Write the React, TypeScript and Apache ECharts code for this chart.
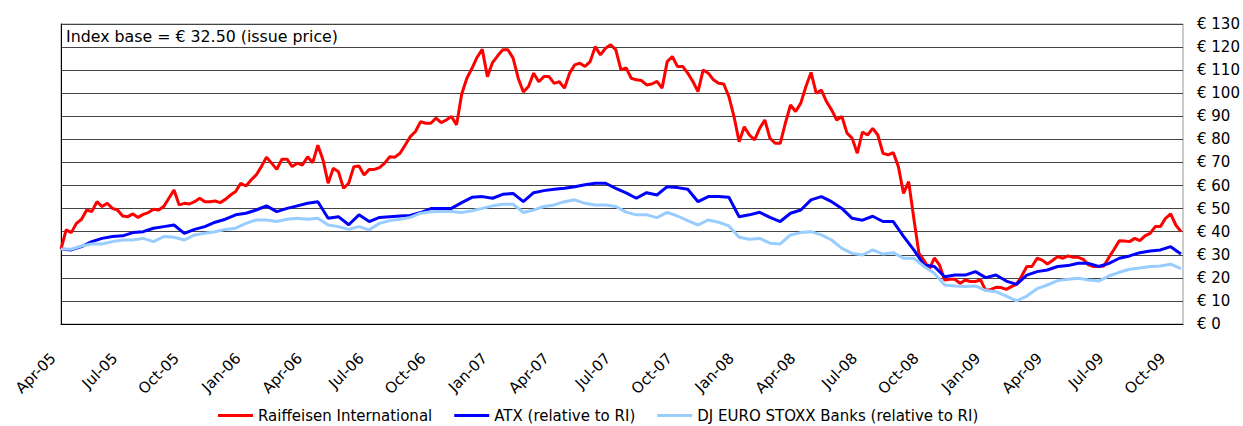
import React, { useEffect, useRef } from "react";
import * as echarts from "echarts";

// x-axis: months since Apr-05 (one tick label per quarter)
const xLabels = [
  "Apr-05", "Jul-05", "Oct-05", "Jan-06", "Apr-06", "Jul-06", "Oct-06",
  "Jan-07", "Apr-07", "Jul-07", "Oct-07", "Jan-08", "Apr-08", "Jul-08",
  "Oct-08", "Jan-09", "Apr-09", "Jul-09", "Oct-09",
];
const X_MAX_MONTHS = 54.6;

const seriesNames = [
  "Raiffeisen International",
  "ATX (relative to RI)",
  "DJ EURO STOXX Banks (relative to RI)",
];

// Raiffeisen International, one value every 0.25 month from Apr-05
const RI_STEP = 0.25;
const riValues = [
  32.5, 40.8, 39.6, 43.6, 45.4, 49.4, 48.7, 53, 50.9, 52.3, 50.1, 49.4,
  46.8, 46.5, 47.7, 46.2, 47.5, 48.3, 49.7, 49.4, 50.9, 54.5, 58.1, 51.6,
  52.3, 52, 53, 54.5, 53, 53, 53.3, 52.6, 54, 55.9, 57.4, 61,
  59.8, 62.4, 64.6, 68.2, 72.3, 69.7, 67, 71.4, 71.4, 68.2, 69.7, 68.9,
  72.5, 69.9, 77.5, 71.1, 61, 67.5, 66, 58.8, 61,
  68.2, 68.5, 64.6, 67, 67, 67.8, 69.7, 72.5, 72.3, 74, 77.6, 81.2,
  83.4, 87.7, 87, 87, 89.2, 87.3, 88.4, 89.9, 86.3, 99.7, 106.5, 110.8,
  115.6, 119, 107.2, 113.3, 116.2, 118.8, 118.8, 115.2, 106.5, 100.5, 102.9, 108.7,
  105, 107.2, 107.2, 104.3, 105, 102.2, 108.7, 112.3, 113, 111.6, 113.7, 120.2,
  116.6, 119.5, 121, 118.8, 110.1, 111,
  106.5, 105.8, 105.5, 103.6, 104, 105.1, 102.2, 113.7, 115.9, 111.6, 111.6, 108.7,
  105.1, 100.7, 110.1, 108.7, 105.8, 104.3, 104, 98.6, 89.9, 79, 85.5, 81.9,
  79.8, 84.8, 88.4, 80.5, 78.3, 78.3, 87, 94.9, 92.1, 95.7, 102.9, 109,
  100, 101.4, 96.4, 92.8, 88.4, 89.9, 82.7, 80.5, 74, 83.2, 81.9, 84.8,
  81.9, 74, 73.3, 74.3, 68.2, 56.6,
  61.7, 45.8, 30.6, 27.5, 23.7, 28.6, 25.6, 19.1, 19.4, 19.4, 17.6, 19.1,
  18.4, 18.4, 19.1, 14.5, 15, 15.9, 15.8, 15, 16.2, 17.3, 20.8, 24.9,
  24.9, 28.5, 27.7, 26, 27.5, 29.2, 28.5, 29.5, 28.9, 28.9, 28, 25.6,
  24.9, 24.9, 25.1, 28.9, 32.4, 36.1, 36, 35.7, 37.1, 36.1, 38.2, 39.3,
  42.2, 42.2, 45.8, 47.7, 42.9, 40,
];

// ATX and DJ EURO STOXX Banks, one value every 0.5 month from Apr-05
const IDX_STEP = 0.5;
const atxValues = [
  32.5, 32.1, 33.5, 35.7, 37.1, 37.9, 38.2, 39.6, 40, 41.5, 42.2, 42.9,
  39.3, 41, 42.2, 44.1, 45.4, 47.3, 48, 49.4, 51.2, 48.7, 50.1, 51.2,
  52.3, 53, 45.8, 46.5, 43, 47.3, 44.4, 46.2, 46.5, 46.8, 47, 48.3,
  50, 50.1, 50.1, 52.6, 54.9, 55.2, 54.5, 56.2, 56.6, 53, 56.9, 57.8,
  58.4, 58.8, 59.5, 60.3, 61, 61, 58.8, 56.8, 54.5, 56.9, 55.9, 59.5,
  59.1, 58.4, 53, 55.2, 55.2, 54.9, 46.5, 47.3, 48.4, 46.2, 44.4, 48,
  49.4, 53.8, 55.2, 53, 50.1, 45.8, 45, 46.7, 44.4, 44.4, 38, 32.1,
  25.6, 24.9, 20.5, 21.2, 21.2, 22.7, 20.1, 21.2, 18.6, 17.2, 21.2, 22.7,
  23.4, 24.9, 25.3, 26.3, 26.3, 24.9, 26.3, 28.5, 29.5, 30.9, 31.6, 32.1,
  33.5, 30.3,
];
const djValues = [
  32.5, 32.4, 33.8, 34.7, 34.7, 35.7, 36.4, 36.4, 37.1, 35.7, 37.9, 37.6,
  36.4, 38.6, 39.3, 40, 41, 41.5, 43.6, 45.1, 45.1, 44.4, 45.4, 45.8,
  45.4, 45.8, 42.9, 42.2, 41, 42.2, 40.8, 43.6, 44.8, 45.4, 46.2, 48,
  48.6, 48.8, 48.7, 48.3, 49.1, 50.1, 51.2, 51.9, 51.9, 48.3, 49.4, 50.9,
  51.6, 53, 53.8, 52.3, 51.6, 51.6, 50.9, 48.5, 47.3, 47.3, 46.1, 48.4,
  46.8, 44.8, 42.9, 45.1, 44.1, 42.5, 37.6, 36.7, 37.1, 35, 34.7, 38.6,
  39.6, 40, 38.6, 36.4, 32.8, 30.6, 29.9, 32.1, 30.3, 30.9, 28.5, 28.5,
  24.9, 22, 16.9, 16.5, 16.2, 16.5, 14.5, 14, 12.1, 10, 12.1, 15.3,
  16.9, 18.8, 19.4, 19.8, 19.1, 18.6, 20.8, 22.4, 23.7, 24.3, 24.9, 25.1,
  25.9, 24,
];

const yTickValues = [0, 130, 10]; // min, max, interval

const FONT = "DejaVu Sans";

export default function App() {
  const ref = useRef<HTMLDivElement>(null);
  useEffect(() => {
    if (!ref.current) return;
    const chart = echarts.init(ref.current, undefined, { renderer: "svg" });
    const toPairs = (vals: number[], step: number) => vals.map((v, i) => [i * step, v]);
    chart.setOption({
      animation: false,
      backgroundColor: "#ffffff",
      textStyle: { fontFamily: FONT, color: "#000" },
      title: {
        text: "Index base = € 32.50 (issue price)",
        left: 66,
        top: 28,
        padding: 0,
        textStyle: { fontFamily: FONT, fontSize: 15.8, fontWeight: "normal", color: "#000" },
      },
      grid: {
        left: 61,
        right: 60,
        top: 24,
        height: 300,
        show: true,
        borderColor: "#999",
        borderWidth: 1,
        backgroundColor: "transparent",
      },
      legend: {
        left: 218,
        top: 408,
        padding: 0,
        icon: "rect",
        itemWidth: 35,
        itemHeight: 3,
        itemGap: 22,
        textStyle: { fontFamily: FONT, fontSize: 15, color: "#000" },
        data: seriesNames,
      },
      xAxis: {
        type: "value",
        min: 0,
        max: X_MAX_MONTHS,
        interval: 3,
        axisLine: { show: true, lineStyle: { color: "#000", width: 1 } },
        axisTick: { show: false },
        splitLine: { show: false },
        axisLabel: {
          rotate: 45,
          margin: 24,
          padding: [0, 11, 0, 0],
          fontFamily: FONT,
          fontSize: 15,
          color: "#000",
          showMaxLabel: false,
          formatter: (v: number) => xLabels[Math.round(v / 3)] ?? "",
        },
      },
      yAxis: {
        type: "value",
        position: "right",
        min: yTickValues[0],
        max: yTickValues[1],
        interval: yTickValues[2],
        axisLine: { show: true, lineStyle: { color: "#000", width: 1 } },
        axisTick: { show: false },
        splitLine: { show: true, lineStyle: { color: "#444", width: 1 } },
        axisLabel: {
          margin: 14,
          fontFamily: FONT,
          fontSize: 15,
          color: "#000",
          formatter: (v: number) => "€ " + v,
        },
      },
      series: [
        {
          name: seriesNames[0],
          type: "line",
          data: toPairs(riValues, RI_STEP),
          showSymbol: false,
          color: "#ff0000",
          lineStyle: { width: 3, color: "#ff0000" },
          z: 3,
        },
        {
          name: seriesNames[1],
          type: "line",
          data: toPairs(atxValues, IDX_STEP),
          showSymbol: false,
          color: "#0000ff",
          lineStyle: { width: 3, color: "#0000ff" },
          z: 4,
        },
        {
          name: seriesNames[2],
          type: "line",
          data: toPairs(djValues, IDX_STEP),
          showSymbol: false,
          color: "#99ccff",
          lineStyle: { width: 3, color: "#99ccff" },
          z: 5,
        },
      ],
    });
    return () => chart.dispose();
  }, []);
  return (
    <div
      ref={ref}
      style={{ position: "fixed", left: 0, top: 0, width: 1243, height: 426 }}
    />
  );
}
